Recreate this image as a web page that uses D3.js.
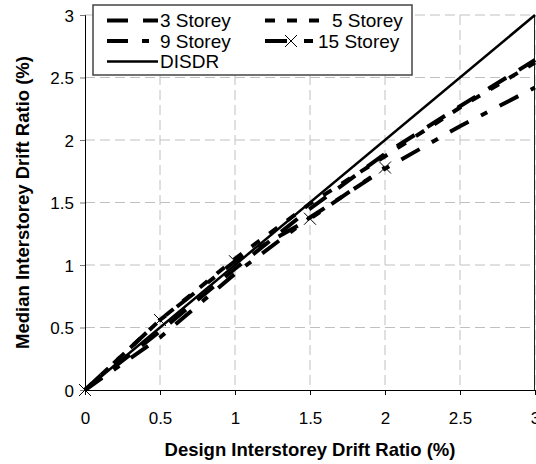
<!DOCTYPE html>
<html>
<head>
<meta charset="utf-8">
<script src="https://cdn.jsdelivr.net/npm/d3@7"></script>
<style>
  body { margin: 0; background: #fff; }
  svg { font-family: Arial, "Liberation Sans", sans-serif; }
</style>
</head>
<body>
<svg id="chart" width="536" height="464"></svg>
<script>
// values
const driftX = [0, 0.5, 1, 1.5, 2, 2.5, 3];
const storey3 = [0, 0.47, 0.97, 1.45, 1.89, 2.27, 2.64];
const storey5 = [0, 0.56, 1.05, 1.49, 1.87, 2.26, 2.62];
const storey9 = [0, 0.42, 0.93, 1.38, 1.77, 2.11, 2.42];
const storey15X = [0, 0.5, 1, 1.5, 2];
const storey15 = [0, 0.56, 1.03, 1.37, 1.78];
const disdrX = [0, 3];
const disdr = [0, 3];
const tickVals = [0, 0.5, 1, 1.5, 2, 2.5, 3];

const series = [
  { name: "3 Storey", xs: driftX, ys: storey3, dash: "21,15", width: 4, tx: 160 },
  { name: "5 Storey", xs: driftX, ys: storey5, dash: "10,12", width: 4, tx: 332 },
  { name: "9 Storey", xs: driftX, ys: storey9, dash: "21,14,7,14", width: 4, tx: 160 },
  { name: "15 Storey", xs: storey15X, ys: storey15, dash: "22,17,9,14", width: 4, tx: 318, marker: true },
  { name: "DISDR", xs: disdrX, ys: disdr, dash: null, width: 2.5, tx: 160 },
];

const svg = d3.select("#chart");
const plotL = 85, plotR = 535, plotT = 15, plotB = 390;

const x = d3.scaleLinear().domain([0, 3]).range([plotL, plotR]);
const y = d3.scaleLinear().domain([0, 3]).range([plotB, plotT]);

// grid
svg.append("g")
  .selectAll("line")
  .data(tickVals.slice(1))
  .join("line")
  .attr("x1", d => x(d)).attr("x2", d => x(d))
  .attr("y1", plotT).attr("y2", plotB)
  .attr("stroke", "#c0c0c0").attr("stroke-dasharray", "10,5");

svg.append("g")
  .selectAll("line")
  .data(tickVals.slice(1))
  .join("line")
  .attr("x1", plotL).attr("x2", plotR)
  .attr("y1", d => y(d)).attr("y2", d => y(d))
  .attr("stroke", "#c0c0c0").attr("stroke-dasharray", "10,5");

// right border
svg.append("line")
  .attr("x1", plotR - 0.5).attr("x2", plotR - 0.5)
  .attr("y1", plotT).attr("y2", plotB)
  .attr("stroke", "#222");

// axes
const xAxis = svg.append("g")
  .attr("transform", `translate(0,${plotB})`)
  .call(d3.axisBottom(x).tickValues(tickVals).tickSize(5).tickPadding(17)
    .tickFormat(d3.format("")));
const yAxis = svg.append("g")
  .attr("transform", `translate(${plotL},0)`)
  .call(d3.axisLeft(y).tickValues(tickVals).tickSize(5).tickPadding(6)
    .tickFormat(d3.format("")));

[xAxis, yAxis].forEach(a => {
  a.select(".domain").attr("stroke", "#000");
  a.selectAll(".tick line").attr("stroke", "#000");
  a.selectAll(".tick text")
    .attr("font-size", 17)
    .attr("font-family", "Arial, 'Liberation Sans', sans-serif")
    .attr("fill", "#000");
});
yAxis.selectAll(".tick line").attr("stroke", "#777");
yAxis.selectAll(".tick text").attr("dy", "0.36em");

// series lines
const line = d3.line().x(d => x(d[0])).y(d => y(d[1]));

series.forEach(s => {
  const pts = s.xs.map((v, i) => [v, s.ys[i]]);
  svg.append("path")
    .datum(pts)
    .attr("d", line)
    .attr("fill", "none")
    .attr("stroke", "#000")
    .attr("stroke-width", s.width)
    .attr("stroke-dasharray", s.dash);
  if (s.marker) {
    svg.append("g")
      .selectAll("path")
      .data(pts)
      .join("path")
      .attr("transform", d => `translate(${x(d[0])},${y(d[1])})`)
      .attr("d", "M-6,-6L6,6M-6,6L6,-6")
      .attr("stroke", "#000")
      .attr("stroke-width", 1);
  }
});

// legend
const legend = svg.append("g");
legend.append("rect")
  .attr("x", 93).attr("y", 5)
  .attr("width", 319).attr("height", 70)
  .attr("fill", "#fff")
  .attr("stroke", "#444").attr("stroke-width", 1.5);

const slots = [
  { sx: 107, row: 0 }, { sx: 265, row: 0 },
  { sx: 107, row: 1 }, { sx: 265, row: 1 },
  { sx: 107, row: 2 },
];
series.forEach((s, i) => {
  const p = slots[i];
  const cy = 20.5 + p.row * 20.5;
  legend.append("line")
    .attr("x1", p.sx).attr("x2", s.tx - 2)
    .attr("y1", cy).attr("y2", cy)
    .attr("stroke", "#000")
    .attr("stroke-width", s.width)
    .attr("stroke-dasharray", s.dash);
  if (s.marker) {
    legend.append("path")
      .attr("transform", `translate(${p.sx + 26},${cy})`)
      .attr("d", "M-6,-6L6,6M-6,6L6,-6")
      .attr("stroke", "#000").attr("stroke-width", 1);
  }
  legend.append("text")
    .attr("x", s.tx).attr("y", cy)
    .attr("dy", "0.36em")
    .attr("font-size", 19)
    .text(s.name);
});

// axis titles
svg.append("text")
  .attr("x", (plotL + plotR) / 2).attr("y", 456)
  .attr("text-anchor", "middle")
  .attr("font-size", 18.5).attr("font-weight", "bold")
  .text("Design Interstorey Drift Ratio (%)");

svg.append("text")
  .attr("transform", `translate(29,${(plotT + plotB) / 2}) rotate(-90)`)
  .attr("text-anchor", "middle")
  .attr("font-size", 18.5).attr("font-weight", "bold")
  .text("Median Interstorey Drift Ratio (%)");
</script>
</body>
</html>
